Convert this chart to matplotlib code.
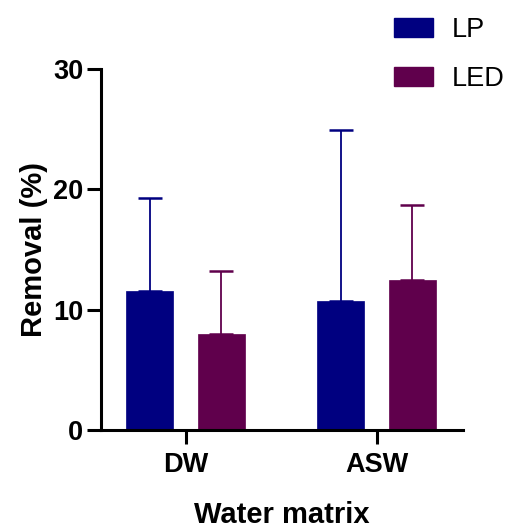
import matplotlib as mpl
mpl.use('Agg')
import matplotlib.pyplot as plt
import matplotlib.patches as mpatches
import numpy as np

# data
categories = ['DW', 'ASW']
series = ['LP', 'LED']
lp_mean = [11.55, 10.67]
lp_upper = [19.32, 24.92]
led_mean = [8.0, 12.42]
led_upper = [13.22, 18.74]
y_ticks = [0, 10, 20, 30]

colors = {'LP': '#000080', 'LED': '#60004C'}

plt.rcParams['font.family'] = ['Liberation Sans', 'DejaVu Sans']

fig = plt.figure(figsize=(5.12, 5.30), dpi=100)
ax = fig.add_axes([0.198, 0.1896, 0.706, 0.6793])

x = np.arange(len(categories))
width = 0.249
offset = 0.188

for means, upper, name, sign in [(lp_mean, lp_upper, 'LP', -1), (led_mean, led_upper, 'LED', 1)]:
    pos = x + sign * offset
    means = np.array(means)
    err = np.array(upper) - means
    ax.bar(pos, means, width, color=colors[name], edgecolor=colors[name], linewidth=0.5, zorder=2)
    ax.errorbar(pos, means, yerr=[np.zeros_like(err), err], fmt='none',
                ecolor=colors[name], elinewidth=1.3, capsize=8.6, capthick=1.8, zorder=1)

ax.set_xlim(-0.4408, 1.4518)
ax.set_ylim(0, 30)
ax.set_yticks(y_ticks)
ax.set_xticks(x)
ax.set_xticklabels(categories)

for s in ['top', 'right']:
    ax.spines[s].set_visible(False)
for s in ['left', 'bottom']:
    ax.spines[s].set_linewidth(2.2)

ax.tick_params(axis='both', width=2.2, length=10, labelsize=19.5, pad=3)
ax.tick_params(axis='x', pad=6)
for lab in ax.get_xticklabels() + ax.get_yticklabels():
    lab.set_fontweight('bold')

ax.set_ylabel('Removal (%)', fontsize=21, fontweight='bold', labelpad=4)
ax.set_xlabel('Water matrix', fontsize=21, fontweight='bold', labelpad=17)

handles = [mpatches.Patch(facecolor=colors[n], edgecolor=colors[n], label=n) for n in series]
fig.legend(handles=handles, loc='upper left', bbox_to_anchor=(0.7695, 0.968),
           frameon=False, fontsize=19.5, handlelength=1.45, handleheight=0.66,
           handletextpad=0.7, labelspacing=0.85, borderpad=0, borderaxespad=0)

fig.savefig('out.png', dpi=100)
